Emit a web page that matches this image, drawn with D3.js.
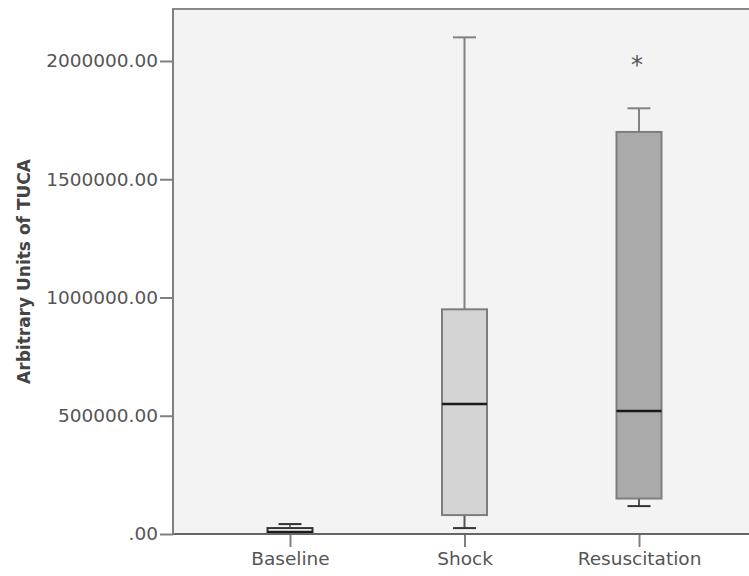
<!DOCTYPE html>
<html>
<head>
<meta charset="utf-8">
<script src="https://cdn.jsdelivr.net/npm/d3@7"></script>
<style>
  html, body { margin: 0; padding: 0; background: #ffffff; }
  svg { display: block; }
</style>
</head>
<body>
<svg id="chart" width="749" height="576"></svg>
<script>
// ---- data ----
const categories = ["Baseline", "Shock", "Resuscitation"];
const minValues    = [0,      25000,   118000];
const q1Values     = [3000,   80000,   150000];
const medianValues = [8000,   550000,  520000];
const q3Values     = [25000,  950000,  1700000];
const maxValues    = [42000,  2100000, 1800000];
const boxFills     = ["#f9f9f9", "#d4d4d4", "#aaaaaa"];
const outlierCategories = ["Resuscitation"];
const outlierValues     = [2000000];
const yTickValues = [0, 500000, 1000000, 1500000, 2000000];
const yTickLabels = [".00", "500000.00", "1000000.00", "1500000.00", "2000000.00"];
const yTitle = "Arbitrary Units of TUCA";

// ---- layout ----
const svg = d3.select("#chart");
const plotLeft = 173, plotTop = 9, plotBottom = 534, plotRight = 760;
const font = "'DejaVu Sans', Verdana, sans-serif";

const x = d3.scalePoint().domain(categories).range([290, 639]);
const y = d3.scaleLinear().domain([0, 2000000]).range([plotBottom, 61]);

const boxW = 45, capW = 23;

// plot background
svg.append("rect")
  .attr("x", plotLeft).attr("y", plotTop)
  .attr("width", plotRight - plotLeft).attr("height", plotBottom - plotTop)
  .attr("fill", "#f3f3f3").attr("stroke", "#8a8a8a").attr("stroke-width", 2);

const data = categories.map((c, i) => ({
  cat: c, min: minValues[i], q1: q1Values[i], med: medianValues[i],
  q3: q3Values[i], max: maxValues[i], fill: boxFills[i]
}));

const g = svg.append("g");
const groups = g.selectAll("g.box").data(data).join("g").attr("class", "box");

// upper whisker
groups.append("line")
  .attr("x1", d => x(d.cat)).attr("x2", d => x(d.cat))
  .attr("y1", d => y(d.q3)).attr("y2", d => y(d.max))
  .attr("stroke", "#828282").attr("stroke-width", 2);
groups.append("line")
  .attr("x1", d => x(d.cat) - capW / 2).attr("x2", d => x(d.cat) + capW / 2)
  .attr("y1", d => y(d.max)).attr("y2", d => y(d.max))
  .attr("stroke", d => d.cat === "Baseline" ? "#333" : "#828282").attr("stroke-width", 2);

// lower whisker
groups.append("line")
  .attr("x1", d => x(d.cat)).attr("x2", d => x(d.cat))
  .attr("y1", d => y(d.q1)).attr("y2", d => y(d.min))
  .attr("stroke", "#555").attr("stroke-width", 2);
groups.append("line")
  .attr("x1", d => x(d.cat) - capW / 2).attr("x2", d => x(d.cat) + capW / 2)
  .attr("y1", d => y(d.min)).attr("y2", d => y(d.min))
  .attr("stroke", "#333").attr("stroke-width", 2);

// box
groups.append("rect")
  .attr("x", d => x(d.cat) - boxW / 2)
  .attr("y", d => y(d.q3))
  .attr("width", boxW)
  .attr("height", d => Math.max(1, y(d.q1) - y(d.q3)))
  .attr("fill", d => d.fill)
  .attr("stroke", d => d.cat === "Baseline" ? "#333" : "#7e7e7e")
  .attr("stroke-width", 2);

// median
groups.append("line")
  .attr("x1", d => x(d.cat) - boxW / 2).attr("x2", d => x(d.cat) + boxW / 2)
  .attr("y1", d => y(d.med)).attr("y2", d => y(d.med))
  .attr("stroke", "#1a1a1a").attr("stroke-width", 2.5);

// outliers
g.selectAll("text.outlier").data(outlierValues).join("text")
  .attr("class", "outlier")
  .attr("x", (d, i) => x(outlierCategories[i]) - 2)
  .attr("y", d => y(d) + 12)
  .attr("text-anchor", "middle")
  .attr("font-family", font).attr("font-size", 24)
  .attr("fill", "#555")
  .text("*");

// y axis
const yAxis = d3.axisLeft(y).tickValues(yTickValues)
  .tickFormat((d, i) => yTickLabels[i]).tickSize(13).tickPadding(2);
const yg = svg.append("g").attr("transform", `translate(${plotLeft},0)`).call(yAxis);
yg.select(".domain").remove();
yg.selectAll(".tick line").attr("stroke", "#808080").attr("stroke-width", 2);
yg.selectAll(".tick text").attr("font-family", font).attr("font-size", 18.5).attr("fill", "#555");

// x axis
const xAxis = d3.axisBottom(x).tickSize(13).tickPadding(5);
const xg = svg.append("g").attr("transform", `translate(0,${plotBottom})`).call(xAxis);
xg.select(".domain").remove();
xg.selectAll(".tick line").attr("stroke", "#808080").attr("stroke-width", 2);
xg.selectAll(".tick text").attr("font-family", font).attr("font-size", 18.5).attr("fill", "#555");

// bottom axis line
svg.append("line").attr("x1", plotLeft).attr("x2", plotRight)
  .attr("y1", plotBottom).attr("y2", plotBottom)
  .attr("stroke", "#666").attr("stroke-width", 2);
svg.append("line").attr("x1", plotLeft).attr("x2", plotLeft)
  .attr("y1", plotTop).attr("y2", plotBottom)
  .attr("stroke", "#808080").attr("stroke-width", 2);

// y title
svg.append("text")
  .attr("transform", `translate(30,${(plotTop + plotBottom) / 2}) rotate(-90)`)
  .attr("text-anchor", "middle")
  .attr("font-family", font).attr("font-size", 17).attr("font-weight", "bold")
  .attr("fill", "#444")
  .text(yTitle);
</script>
</body>
</html>
